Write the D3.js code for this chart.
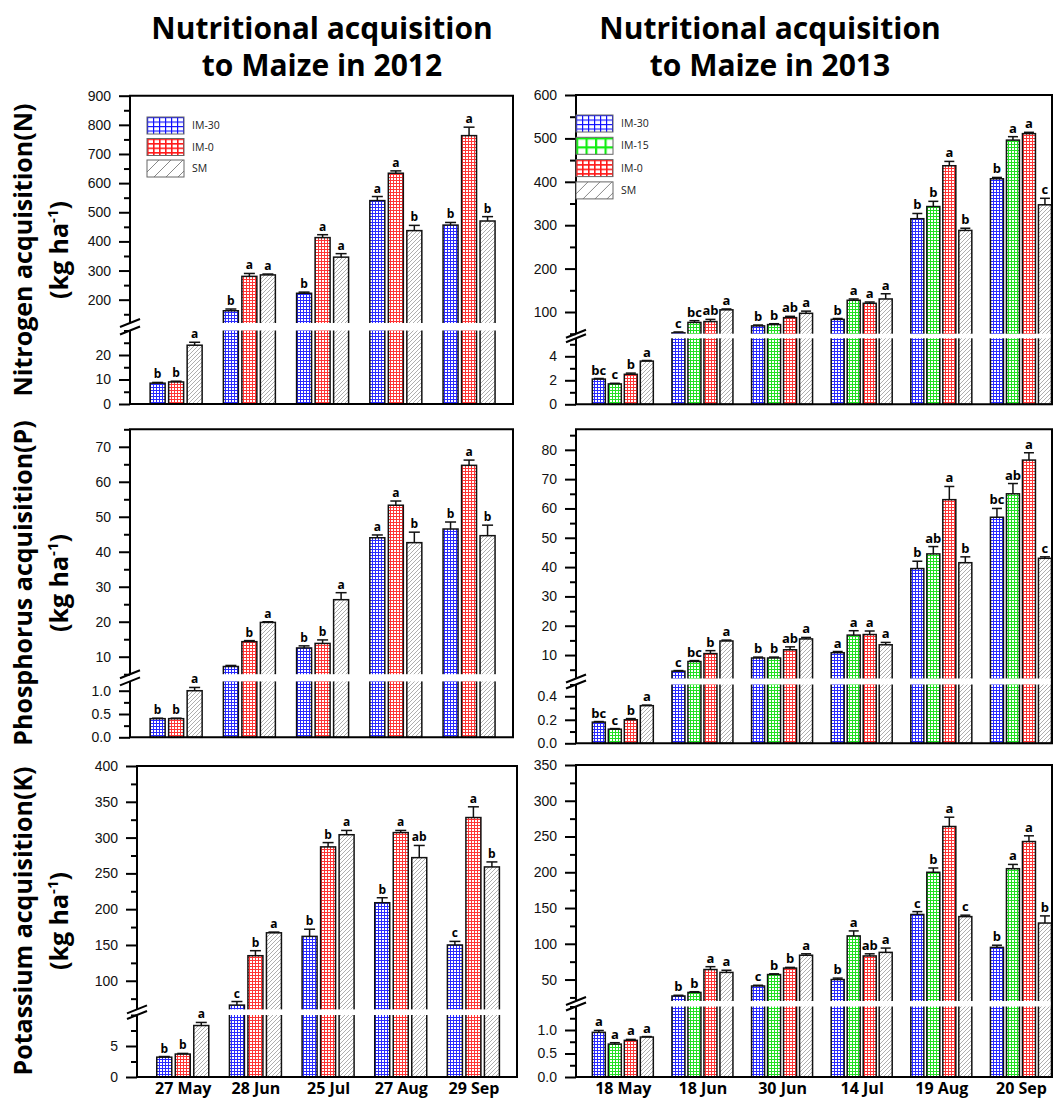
<!DOCTYPE html>
<html>
<head>
<meta charset="utf-8">
<script src="https://cdn.jsdelivr.net/npm/d3@7"></script>
<style>
  body { margin: 0; background: #fff; }
  svg { display: block; }
</style>
</head>
<body>
<svg id="chart"></svg>
<script>
// categories
const series2012 = ['IM-30', 'IM-0', 'SM'];
const series2013 = ['IM-30', 'IM-15', 'IM-0', 'SM'];
const dates2012 = ['27 May', '28 Jun', '25 Jul', '27 Aug', '29 Sep'];
const dates2013 = ['18 May', '18 Jun', '30 Jun', '14 Jul', '19 Aug', '20 Sep'];

// values: one row per sampling date, one column per treatment
const n2012 = [[8.5, 9, 24], [162, 280, 285], [222, 413, 346], [540, 634, 437], [456, 763, 470]];
const n2012Err = [[0.3, 0.3, 1.2], [6, 10, 3], [4, 10, 12], [14, 8, 18], [9, 29, 15]];
const n2012Sig = [['b', 'b', 'a'], ['b', 'a', 'a'], ['b', 'a', 'a'], ['a', 'a', 'b'], ['b', 'a', 'b']];

const p2012 = [[0.4, 0.4, 1.0], [7.2, 14.3, 19.8], [12.5, 13.8, 26.3], [44, 53.3, 42.6], [46.5, 64.7, 44.6]];
const p2012Err = [[0.01, 0.01, 0.07], [0.3, 0.3, 0.2], [0.6, 1.0, 2.0], [0.8, 1.2, 3.0], [2.0, 1.5, 3.0]];
const p2012Sig = [['b', 'b', 'a'], ['', 'b', 'a'], ['b', 'b', 'a'], ['a', 'a', 'b'], ['b', 'a', 'b']];

const k2012 = [[3.2, 3.7, 8.3], [66, 135, 167], [162, 287, 304], [209, 307, 272], [150, 328, 259]];
const k2012Err = [[0.1, 0.1, 0.5], [5, 7, 1], [10, 6, 6], [7, 3, 17], [5, 15, 7]];
const k2012Sig = [['b', 'b', 'a'], ['c', 'b', 'a'], ['b', 'b', 'a'], ['b', 'a', 'ab'], ['c', 'a', 'b']];

const n2013 = [[2.1, 1.7, 2.5, 3.6], [52, 76, 78, 105], [68, 71, 87, 97], [83, 127, 120, 130], [315, 343, 437, 288], [407, 496, 511, 347]];
const n2013Err = [[0.05, 0.05, 0.1, 0.05], [2, 4, 5, 2], [2, 2, 3, 5], [2, 3, 3, 12], [12, 12, 10, 5], [3, 8, 3, 15]];
const n2013Sig = [['bc', 'c', 'b', 'a'], ['c', 'bc', 'ab', 'a'], ['b', 'b', 'ab', 'a'], ['b', 'a', 'a', 'a'], ['b', 'b', 'a', 'b'], ['b', 'a', 'a', 'c']];

const p2013 = [[0.18, 0.12, 0.2, 0.32], [4.5, 7.8, 10.5, 14.8], [9, 9, 11.8, 15.5], [10.8, 16.8, 17, 13.5], [39.5, 44.5, 63, 41.5], [57, 65, 76.5, 43]];
const p2013Err = [[0.005, 0.005, 0.01, 0.005], [0.2, 0.3, 1, 0.3], [0.3, 0.3, 1, 0.5], [0.4, 1.5, 1.2, 0.8], [2.5, 2.5, 4.5, 2], [3, 3.5, 2.5, 0.5]];
const p2013Sig = [['bc', 'c', 'b', 'a'], ['c', 'bc', 'b', 'a'], ['b', 'b', 'ab', 'a'], ['a', 'a', 'a', 'a'], ['b', 'ab', 'a', 'b'], ['bc', 'ab', 'a', 'c']];

const k2013 = [[0.95, 0.7, 0.78, 0.85], [27, 32, 64, 60], [41, 57, 66, 84], [50, 111, 83, 88], [141, 200, 264, 138], [95, 205, 243, 129]];
const k2013Err = [[0.04, 0.03, 0.02, 0.01], [1, 1, 4, 3], [1, 1, 1, 2], [2, 7, 3, 6], [4, 6, 13, 2], [3, 6, 8, 10]];
const k2013Sig = [['a', 'a', 'a', 'a'], ['b', 'b', 'a', 'a'], ['c', 'b', 'b', 'a'], ['b', 'a', 'ab', 'a'], ['c', 'b', 'a', 'c'], ['b', 'a', 'a', 'b']];

// tick labels (upper part / lower part of each broken axis)
const nTicks2012 = [200, 300, 400, 500, 600, 700, 800, 900], nLowTicks2012 = [0, 10, 20];
const pTicks2012 = [10, 20, 30, 40, 50, 60, 70], pLowTicks2012 = [0, 0.5, 1.0];
const kTicks2012 = [100, 150, 200, 250, 300, 350, 400], kLowTicks2012 = [0, 5];
const nTicks2013 = [100, 200, 300, 400, 500, 600], nLowTicks2013 = [0, 2, 4];
const pTicks2013 = [10, 20, 30, 40, 50, 60, 70, 80], pLowTicks2013 = [0, 0.2, 0.4];
const kTicks2013 = [50, 100, 150, 200, 250, 300, 350], kLowTicks2013 = [0, 0.5, 1.0];

const W = 1057, H = 1102;
const BOLD = '"Open Sans", "DejaVu Sans", sans-serif';
const ARIAL = '"Liberation Sans", Arial, sans-serif';

const svg = d3.select('#chart').attr('width', W).attr('height', H);
const defs = svg.append('defs');

//small grid / hatch fills like the Origin patterns
const gridPattern = (id, color, w, h, lw) => {
    const p = defs.append('pattern').attr('id', id)
        .attr('patternUnits', 'userSpaceOnUse').attr('width', w).attr('height', h);
    p.append('rect').attr('width', w).attr('height', h).attr('fill', '#fff');
    p.append('path').attr('d', `M0,${lw / 2}H${w}M${lw / 2},0V${h}`)
        .attr('stroke', color).attr('stroke-width', lw).attr('fill', 'none');
}
const hatchPattern = (id, size, color, lw) => {
    const p = defs.append('pattern').attr('id', id)
        .attr('patternUnits', 'userSpaceOnUse').attr('width', size).attr('height', size);
    p.append('rect').attr('width', size).attr('height', size).attr('fill', '#fff');
    p.append('path')
        .attr('d', `M0,${size}L${size},0M${-size / 2},${size / 2}L${size / 2},${-size / 2}M${size / 2},${size * 1.5}L${size * 1.5},${size / 2}`)
        .attr('stroke', color).attr('stroke-width', lw);
}

gridPattern('g-blue', '#2a2aff', 3, 3, 1);
gridPattern('g-red', '#ff3535', 3, 3, 1);
gridPattern('g-green', '#22e022', 3, 3, 1);
hatchPattern('hatch', 4, '#999', 0.8);
gridPattern('lg-blue', '#1010ff', 6, 4.5, 1.2);
gridPattern('lg-red', '#ff1a1a', 6, 4.5, 1.6);
gridPattern('lg-green', '#10ee10', 9.5, 9, 2.2);
hatchPattern('lg-hatch', 12, '#888', 1);

const barFill = { 'IM-30': 'url(#g-blue)', 'IM-15': 'url(#g-green)', 'IM-0': 'url(#g-red)', 'SM': 'url(#hatch)' };
const legendFill = { 'IM-30': 'url(#lg-blue)', 'IM-15': 'url(#lg-green)', 'IM-0': 'url(#lg-red)', 'SM': 'url(#lg-hatch)' };

const minorTicks = (dom, step, major) => d3.range(Math.ceil(dom[0] / step) * step, dom[1] + 1e-9, step)
    .filter(v => !major.some(m => Math.abs(m - v) < 1e-9));

const left = { series: series2012, dates: dates2012, xDomain: [0.37, 5.6], groupW: 52, pad: 0.19, cap: 11, sigSize: 12 };
const right = { series: series2013, dates: dates2013, xDomain: [0.412, 6.39], groupW: 61, pad: 0.1875, cap: 10, sigSize: 13 };

const panels = [
    { ...left, mean: n2012, err: n2012Err, sig: n2012Sig, x0: 130, x1: 513, top: 95.7, bottom: 404,
      hi: { domain: [120, 900], bottom: 323, ticks: nTicks2012, minor: 50 },
      lo: { domain: [0, 30], top: 330.5, ticks: nLowTicks2012, minor: 5 },
      fmt: d3.format('d'), lowFmt: d3.format('d'), legend: { x: 147, y: 117, dy: 21.5 } },
    { ...left, mean: p2012, err: p2012Err, sig: p2012Sig, x0: 130, x1: 513, top: 429.3, bottom: 737.3,
      hi: { domain: [5, 75], bottom: 674.2, ticks: pTicks2012, minor: 5 },
      lo: { domain: [0, 1.2], top: 681.4, ticks: pLowTicks2012, minor: 0.25 },
      fmt: d3.format('d'), lowFmt: d3.format('.1f') },
    { ...left, mean: k2012, err: k2012Err, sig: k2012Sig, x0: 137, x1: 517, top: 766, bottom: 1077,
      hi: { domain: [60, 400], bottom: 1009.4, ticks: kTicks2012, minor: 25 },
      lo: { domain: [0, 10], top: 1015, ticks: kLowTicks2012, minor: 2.5 },
      fmt: d3.format('d'), lowFmt: d3.format('d'), dates: dates2012 },
    { ...right, mean: n2013, err: n2013Err, sig: n2013Sig, x0: 576, x1: 1052, top: 95, bottom: 404.3,
      hi: { domain: [50, 600], bottom: 333.7, ticks: nTicks2013, minor: 50 },
      lo: { domain: [0, 5.5], top: 338.3, ticks: nLowTicks2013, minor: 1 },
      fmt: d3.format('d'), lowFmt: d3.format('d'), legend: { x: 576, y: 115, dy: 22.3 } },
    { ...right, mean: p2013, err: p2013Err, sig: p2013Sig, x0: 576, x1: 1052, top: 429.3, bottom: 743.3,
      hi: { domain: [2, 87], bottom: 678.5, ticks: pTicks2013, minor: 5 },
      lo: { domain: [0, 0.5], top: 684.5, ticks: pLowTicks2013, minor: 0.1 },
      fmt: d3.format('d'), lowFmt: d3.format('.1f') },
    { ...right, mean: k2013, err: k2013Err, sig: k2013Sig, x0: 576, x1: 1052, top: 765, bottom: 1077,
      hi: { domain: [20, 350], bottom: 1001, ticks: kTicks2013, minor: 25 },
      lo: { domain: [0, 1.5], top: 1006.5, ticks: kLowTicks2013, minor: 0.25 },
      fmt: d3.format('d'), lowFmt: d3.format('.1f'), showDates: true }
];
panels[2].showDates = true;

const drawPanel = (p) => {
    const g = svg.append('g');
    const x = d3.scaleLinear().domain(p.xDomain).range([p.x0, p.x1]);
    const inner = d3.scaleBand().domain(p.series).range([-p.groupW / 2, p.groupW / 2]).paddingInner(p.pad);
    const yLo = d3.scaleLinear().domain(p.lo.domain).range([p.bottom, p.lo.top]);
    const yHi = d3.scaleLinear().domain(p.hi.domain).range([p.hi.bottom, p.top]);
    const y = v => (v <= p.lo.domain[1] ? yLo(v) : yHi(v));

    const rows = [];
    p.mean.forEach((row, i) => row.forEach((v, j) =>
        rows.push({ i, s: p.series[j], v, e: p.err[i][j], sig: p.sig[i][j] })));
    const cx = d => x(d.i + 1) + inner(d.s) + inner.bandwidth() / 2;

    //bars
    g.selectAll('rect.bar').data(rows).join('rect')
        .attr('class', 'bar')
        .attr('x', d => x(d.i + 1) + inner(d.s))
        .attr('width', inner.bandwidth())
        .attr('y', d => y(d.v))
        .attr('height', d => p.bottom - y(d.v))
        .attr('fill', d => barFill[d.s])
        .attr('stroke', '#111')
        .attr('stroke-width', 1.5);

    //frame
    g.append('path')
        .attr('d', `M${p.x0},${p.top}H${p.x1}V${p.bottom}H${p.x0}Z`)
        .attr('fill', 'none').attr('stroke', '#000').attr('stroke-width', 2);

    //white band of the axis break
    g.append('rect')
        .attr('x', p.x0 - 4).attr('width', p.x1 - p.x0 + 2.5)
        .attr('y', p.hi.bottom).attr('height', p.lo.top - p.hi.bottom)
        .attr('fill', '#fff');

    //error bars
    const eb = g.selectAll('g.err').data(rows).join('g').attr('class', 'err')
        .attr('stroke', '#111').attr('stroke-width', 1.5);
    eb.append('line')
        .attr('x1', cx).attr('x2', cx)
        .attr('y1', d => y(d.v)).attr('y2', d => y(d.v + d.e));
    eb.append('line')
        .attr('x1', d => cx(d) - p.cap / 2).attr('x2', d => cx(d) + p.cap / 2)
        .attr('y1', d => y(d.v + d.e)).attr('y2', d => y(d.v + d.e));

    //significance letters
    g.selectAll('text.sig').data(rows).join('text')
        .attr('class', 'sig')
        .attr('x', cx)
        .attr('y', d => y(d.v + d.e) - 4)
        .attr('text-anchor', 'middle')
        .attr('font-family', BOLD).attr('font-weight', 700).attr('font-size', p.sigSize)
        .text(d => d.sig);

    //y ticks on both parts of the broken axis
    [[yHi, p.hi, p.fmt], [yLo, p.lo, p.lowFmt]].forEach(([sc, seg, fmt]) => {
        g.append('g').attr('transform', `translate(${p.x0},0)`)
            .call(d3.axisLeft(sc).tickValues(minorTicks(seg.domain, seg.minor, seg.ticks)).tickSize(6).tickFormat(''))
            .call(a => a.select('.domain').remove())
            .selectAll('line').attr('stroke-width', 2);
        const ax = g.append('g').attr('transform', `translate(${p.x0},0)`)
            .call(d3.axisLeft(sc).tickValues(seg.ticks).tickSize(11).tickPadding(8).tickFormat(fmt))
            .call(a => a.select('.domain').remove());
        ax.selectAll('line').attr('stroke-width', 2);
        ax.selectAll('text').attr('font-family', ARIAL).attr('font-size', 14).attr('fill', '#111');
    });

    //break marks
    [p.hi.bottom, p.lo.top].forEach(yb => {
        g.append('line')
            .attr('x1', p.x0 - 10).attr('y1', yb + 4)
            .attr('x2', p.x0 + 10).attr('y2', yb - 4)
            .attr('stroke', '#000').attr('stroke-width', 2);
    });

    //dates under the bottom row
    if (p.showDates) {
        g.append('g').attr('transform', `translate(0,${p.bottom})`)
            .call(d3.axisBottom(x).tickValues(d3.range(1, p.dates.length + 1))
                .tickFormat(i => p.dates[i - 1]).tickSize(0).tickPadding(6))
            .call(a => a.select('.domain').remove())
            .selectAll('text')
            .attr('font-family', BOLD).attr('font-weight', 700).attr('font-size', 16).attr('fill', '#000');
    }

    //legend
    if (p.legend) {
        const items = g.selectAll('g.legend').data(p.series).join('g')
            .attr('class', 'legend')
            .attr('transform', (_d, k) => `translate(${p.legend.x}, ${p.legend.y + k * p.legend.dy})`);
        items.append('rect')
            .attr('width', 37).attr('height', 17)
            .attr('fill', d => legendFill[d])
            .attr('stroke', '#666').attr('stroke-width', 1);
        items.append('text')
            .attr('x', 45).attr('y', 8.5).attr('dy', '0.35em')
            .attr('font-family', BOLD).attr('font-size', 10.5).attr('fill', '#222')
            .text(d => d);
    }
}

panels.forEach(drawPanel);

//column titles
[['Nutritional acquisition', 'to Maize in 2012', 322], ['Nutritional acquisition', 'to Maize in 2013', 770]]
    .forEach(([l1, l2, cx]) => {
        const t = svg.append('text')
            .attr('text-anchor', 'middle')
            .attr('font-family', BOLD).attr('font-weight', 700).attr('font-size', 30).attr('fill', '#000');
        t.append('tspan').attr('x', cx).attr('y', 39).text(l1);
        t.append('tspan').attr('x', cx).attr('y', 76).text(l2);
    });

//row titles
[['Nitrogen acquisition(N)', 250], ['Phosphorus acquisition(P)', 583], ['Potassium acquisition(K)', 921]]
    .forEach(([label, cy]) => {
        svg.append('text')
            .attr('transform', `translate(32, ${cy}) rotate(-90)`)
            .attr('text-anchor', 'middle')
            .attr('font-family', BOLD).attr('font-weight', 700).attr('font-size', 25)
            .text(label);
        const u = svg.append('text')
            .attr('transform', `translate(68, ${cy}) rotate(-90)`)
            .attr('text-anchor', 'middle')
            .attr('font-family', BOLD).attr('font-weight', 700).attr('font-size', 25);
        u.append('tspan').text('(kg ha');
        u.append('tspan').attr('font-size', 15).attr('dy', -10).text('-1');
        u.append('tspan').attr('dy', 10).text(')');
    });
</script>
</body>
</html>
